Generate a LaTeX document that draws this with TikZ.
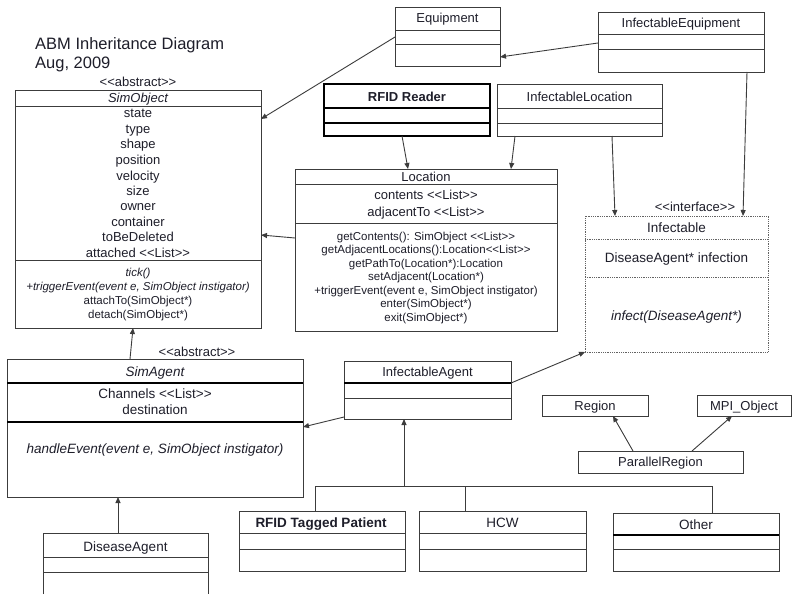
\documentclass[tikz,border=0pt]{standalone}
\usepackage{fontspec}
\setmainfont{Liberation Sans}[Ligatures=TeXOff]
\usetikzlibrary{arrows.meta,calc}
\definecolor{ln}{HTML}{3C3C3C}
\definecolor{tx}{HTML}{1E1E2A}
\newcommand\mkbox[6][]{\node[box,minimum width={(#5-#3)*1pt},minimum height={(#6-#4)*1pt},#1] (#2) at (#3,#4) {};}
\newcommand\mkdiv[4][dv]{\draw[#1] (#2,#4) -- (#3,#4);}
\begin{document}
\begin{tikzpicture}[x=1pt,y=-1pt,
  box/.style={draw=ln,line width=0.9pt,inner sep=0pt,outer sep=0pt,anchor=north west},
  thickbox/.style={draw=black,line width=2pt},
  dotbox/.style={draw=ln!80,line width=0.9pt,dash pattern=on 0.9pt off 0.9pt},
  dv/.style={draw=ln,line width=0.9pt},
  tdv/.style={draw=black,line width=2pt},
  ddv/.style={draw=ln!80,line width=0.9pt,dash pattern=on 0.9pt off 0.9pt},
  lbl/.style={font=\fontsize{13}{15}\selectfont,text=tx,inner sep=0pt,anchor=base,yshift=-4.6pt},
  big/.style={font=\fontsize{13.5}{15}\selectfont,text=tx,inner sep=0pt,anchor=base,yshift=-4.8pt},
  sml/.style={font=\fontsize{11.5}{13}\selectfont,text=tx,inner sep=0pt,anchor=base,yshift=-4.1pt},
  arr/.style={draw=ln,line width=0.9pt,-{Triangle[length=6pt,width=5pt]}},
  wire/.style={draw=ln,line width=0.9pt},
  ttl/.style={font=\fontsize{16.5}{19}\selectfont,text=tx,inner sep=0pt,anchor=base west}]

\fill[white] (0,0) rectangle (792,594);
\useasboundingbox (0,0) rectangle (792,594);

% title
\node[ttl] (title1) at (35,49) {ABM Inheritance Diagram};
\node[ttl] (title2) at (35,68) {Aug, 2009};

% ---------- SimObject
\mkbox{simobj}{15}{90}{261}{328}
\mkdiv{15}{261}{106}
\mkdiv{15}{261}{260}
\node[lbl] (soab) at (138,82) {<<abstract>>};
\node[lbl,font=\fontsize{13}{15}\selectfont\itshape] (son) at (138,98) {SimObject};
\node[lbl] (soa1) at (138,113) {state};
\node[lbl] (soa2) at (138,129) {type};
\node[lbl] (soa3) at (138,144) {shape};
\node[lbl] (soa4) at (138,160) {position};
\node[lbl] (soa5) at (138,175.5) {velocity};
\node[lbl] (soa6) at (138,191) {size};
\node[lbl] (soa7) at (138,206) {owner};
\node[lbl] (soa8) at (138,221.5) {container};
\node[lbl] (soa9) at (138,237) {toBeDeleted};
\node[lbl] (soa10) at (138,252.5) {attached <<List>>};
\node[sml,font=\fontsize{11.5}{13}\selectfont\itshape] (som1) at (138,272.5) {tick()};
\node[sml,font=\fontsize{11.5}{13}\selectfont\itshape] (som2) at (138,286.5) {+triggerEvent(event e, SimObject instigator)};
\node[sml] (som3) at (138,300) {attachTo(SimObject*)};
\node[sml] (som4) at (138,314) {detach(SimObject*)};

% ---------- Equipment
\mkbox{equip}{395}{7}{500}{66}
\mkdiv{395}{500}{30}
\mkdiv{395}{500}{44}
\node[lbl] (eqn) at (447.5,18) {Equipment};

% ---------- InfectableEquipment
\mkbox{infeq}{598}{12}{764}{72}
\mkdiv{598}{764}{34}
\mkdiv{598}{764}{49}
\node[lbl] (ieqn) at (681,22.5) {InfectableEquipment};

% ---------- RFID Reader
\mkbox[thickbox]{rfidr}{324}{84}{490}{136}
\mkdiv[tdv]{324}{490}{108}
\mkdiv[tdv]{324}{490}{123}
\node[lbl,font=\fontsize{13}{15}\selectfont\bfseries] (rrn) at (407,97) {RFID Reader};

% ---------- InfectableLocation
\mkbox{infloc}{497}{84}{662}{136}
\mkdiv{497}{662}{108}
\mkdiv{497}{662}{123}
\node[lbl] (iln) at (579.5,97) {InfectableLocation};

% ---------- Location
\mkbox{loc}{295}{169}{557}{331}
\mkdiv{295}{557}{184}
\mkdiv{295}{557}{223}
\node[lbl] (lcn) at (426,177) {Location};
\node[lbl] (lca1) at (426,195) {contents <<List>>};
\node[lbl] (lca2) at (426,212) {adjacentTo <<List>>};
\node[sml] (lcm1) at (426,236) {getContents(): SimObject <<List>>};
\node[sml] (lcm2) at (426,249.5) {getAdjacentLocations():Location<<List>>};
\node[sml] (lcm3) at (426,263) {getPathTo(Location*):Location};
\node[sml] (lcm4) at (426,276.5) {setAdjacent(Location*)};
\node[sml] (lcm5) at (426,290) {+triggerEvent(event e, SimObject instigator)};
\node[sml] (lcm6) at (426,303.5) {enter(SimObject*)};
\node[sml] (lcm7) at (426,317) {exit(SimObject*)};

% ---------- Infectable
\mkbox[dotbox]{infect}{585}{216}{768}{352}
\mkdiv[ddv]{585}{768}{239}
\mkdiv[ddv]{585}{768}{277}
\node[lbl] (ifint) at (695,207) {<<interface>>};
\node[big] (ifn) at (676.5,228) {Infectable};
\node[big] (ifa) at (676.5,258) {DiseaseAgent* infection};
\node[big,font=\fontsize{13.5}{15}\selectfont\itshape] (ifm) at (676.5,316) {infect(DiseaseAgent*)};

% ---------- SimAgent
\mkbox{simag}{7}{359}{303}{497}
\mkdiv[tdv]{7}{303}{383}
\mkdiv[tdv]{7}{303}{422}
\node[lbl] (saab) at (197,352) {<<abstract>>};
\node[big,font=\fontsize{13.5}{15}\selectfont\itshape] (san) at (155,372) {SimAgent};
\node[big] (saa1) at (155,394) {Channels <<List>>};
\node[big] (saa2) at (155,410) {destination};
\node[big,font=\fontsize{13.5}{15}\selectfont\itshape] (sam1) at (155,449) {handleEvent(event e, SimObject instigator)};

% ---------- InfectableAgent
\mkbox{infag}{344}{361}{511}{419}
\mkdiv[tdv]{344}{511}{383}
\mkdiv{344}{511}{398}
\node[lbl] (ian) at (427.5,372) {InfectableAgent};

% ---------- Region / MPI_Object / ParallelRegion
\mkbox{region}{542}{395}{648}{416}
\node[lbl] (rgn) at (595,405.5) {Region};
\mkbox{mpi}{697}{395}{791}{416}
\node[lbl] (mpin) at (744,405.5) {MPI\_Object};
\mkbox{parreg}{578}{451}{743}{473}
\node[lbl] (prn) at (660.5,462) {ParallelRegion};

% ---------- DiseaseAgent (cut off at the bottom)
\mkbox[draw=none]{disease}{43}{533}{208}{594}
\draw[dv] (disease.south west) -- (disease.north west) -- (disease.north east) -- (disease.south east);
\mkdiv{43}{208}{557}
\mkdiv{43}{208}{572}
\node[big] (dan) at (125.5,547) {DiseaseAgent};

% ---------- bottom classes
\mkbox{rfidp}{239}{511}{405}{571}
\mkdiv{239}{405}{533}
\mkdiv{239}{405}{549}
\node[big,font=\fontsize{13.5}{15}\selectfont\bfseries] (rpn) at (321,523) {RFID Tagged Patient};
\mkbox{hcw}{419}{511}{586}{571}
\mkdiv{419}{586}{533}
\mkdiv{419}{586}{549}
\node[big] (hcwn) at (502.5,523) {HCW};
\mkbox{other}{613}{513}{779}{571}
\mkdiv[tdv]{613}{779}{535}
\mkdiv{613}{779}{549}
\node[big] (otn) at (696,525) {Other};

% ---------- connectors
\draw[arr] ($(equip.north west)+(0,30)$) -- ($(simobj.north east)+(0,29)$);
\draw[arr] ($(infeq.north west)+(0,31)$) -- ($(equip.north east)+(0,50)$);
\draw[arr] ($(infeq.south west)+(149,0)$) -- ($(infect.north west)+(158,0)$);
\draw[arr] ($(infloc.south west)+(115,0)$) -- ($(infect.north west)+(30,0)$);
\draw[arr] ($(rfidr.south west)+(78,0)$) -- ($(loc.north west)+(113,0)$);
\draw[arr] ($(infloc.south west)+(18,0)$) -- ($(loc.north west)+(216,0)$);
\draw[arr] ($(loc.north west)+(0,69)$) -- ($(simobj.north east)+(0,145)$);
\draw[arr] ($(simag.north west)+(123,0)$) -- ($(simobj.south west)+(118,0)$);
\draw[arr] ($(infag.north east)+(0,22)$) -- (infect.south west);
\draw[arr] ($(infag.south west)+(0,-2)$) -- ($(simag.north east)+(0,68)$);
\draw[arr] ($(disease.north west)+(75,0)$) -- ($(simag.south west)+(111,0)$);
\draw[arr] ($(parreg.north west)+(55,0)$) -- ($(region.south west)+(71,0)$);
\draw[arr] ($(parreg.north west)+(114,0)$) -- ($(mpi.south west)+(35,0)$);

% inheritance tree to InfectableAgent
\coordinate (bus) at ($(infag.south west)+(60,67)$);
\draw[wire] ($(rfidp.north west)+(76,0)$) -- ++(0,-25) -| ($(other.north west)+(99,0)$);
\draw[wire] ($(hcw.north west)+(46,0)$) -- ++(0,-25);
\draw[arr] (bus) -- ($(infag.south west)+(60,0)$);
\end{tikzpicture}
\end{document}
